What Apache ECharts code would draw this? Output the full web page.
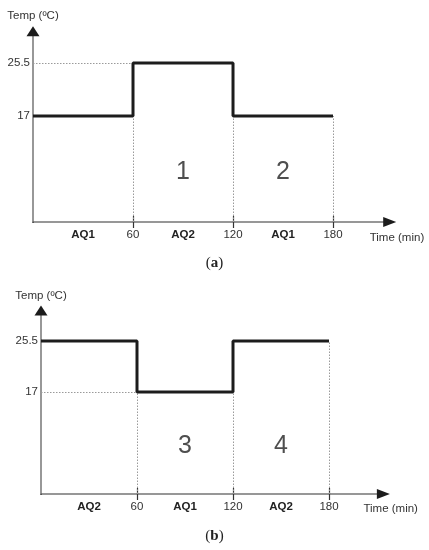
<!DOCTYPE html>
<html><head><meta charset="utf-8">
<script src="https://cdn.jsdelivr.net/npm/echarts@6/dist/echarts.min.js"></script>
<style>html,body{margin:0;padding:0;background:#fff}#c{width:429px;height:550px}</style>
</head><body><div id="c"></div>
<script>
// ---- data ----
const times = [0, 60, 120, 180];            // step change times (min)
const tempA = [17, 25.5, 17, 17];           // panel (a) temperature at each step start
const tempB = [25.5, 17, 25.5, 25.5];       // panel (b)
const phasesA = ['AQ1', 'AQ2', 'AQ1'];
const phasesB = ['AQ2', 'AQ1', 'AQ2'];
const phaseMid = [30, 90, 150];
const tickVals = [60, 120, 180];
const yTickVals = [17, 25.5];
const regionsA = ['1', '2'];
const regionsB = ['3', '4'];
const regionX = [90, 150];
const regionY = 8;
const xMax = 214, yMax = 30.6;

const FONT = 'Liberation Sans, Arial, sans-serif';
const AXIS = '#767676';
const INK = '#1c1c1c';
const HIDDEN = { color: INK, width: 1, type: [0, 100000] };

function stepData(t) { return times.map((x, i) => [x, t[i]]); }
function dotted(t) {
  const lines = [];
  for (let i = 1; i < times.length; i++) {
    const lo = i < times.length - 1 ? Math.min(t[i - 1], t[i]) : t[i - 1];
    lines.push([{ coord: [times[i], 0] }, { coord: [times[i], lo] }]);
  }
  lines.push([{ coord: [0, t[1]] }, { coord: [times[1], t[1]] }]);
  return lines;
}
function labelMap(phases) {
  const m = {};
  phaseMid.forEach((v, i) => m[v] = '{b|' + phases[i] + '}');
  tickVals.forEach(v => m[v] = '{n|' + v + '}');
  return m;
}
function mainX(grid, phases, gap, pad) {
  const m = labelMap(phases);
  return {
    type: 'value', gridIndex: grid, min: 0, max: xMax, position: 'bottom',
    splitLine: { show: false },
    axisLine: { show: true, lineStyle: { color: AXIS, width: 1.5 } },
    axisTick: { show: true, customValues: tickVals, length: 6, lineStyle: { color: '#333', width: 1.2 } },
    axisLabel: {
      show: true, customValues: phaseMid.concat(tickVals), margin: 7,
      formatter: v => m[v] || '',
      rich: {
        b: { fontFamily: FONT, fontSize: 11.5, fontWeight: 'bold', color: '#222' },
        n: { fontFamily: FONT, fontSize: 11.5, color: '#333' }
      }
    },
    name: 'Time (min)', nameLocation: 'end', nameGap: gap,
    nameTextStyle: { fontFamily: FONT, fontSize: 11.5, color: '#333', align: 'left', verticalAlign: 'top', padding: [pad, 0, 0, 0] }
  };
}
function innerX(grid) {
  return {
    type: 'value', gridIndex: grid, min: 0, max: xMax, position: 'bottom',
    splitLine: { show: false }, axisLabel: { show: false },
    axisLine: { show: true, symbol: ['none', 'triangle'], symbolSize: [10, 13], lineStyle: HIDDEN },
    axisTick: { show: true, inside: true, customValues: tickVals, length: 6, lineStyle: { color: '#333', width: 1.2 } }
  };
}
function yAx(grid) {
  return {
    type: 'value', gridIndex: grid, min: 0, max: yMax, position: 'left',
    splitLine: { show: false },
    axisLine: { show: true, lineStyle: { color: AXIS, width: 1.5 } },
    axisTick: { show: false },
    axisLabel: { show: true, customValues: yTickVals, margin: 3, fontFamily: FONT, fontSize: 11.5, color: '#333' },
    name: 'Temp (ºC)', nameLocation: 'end', nameGap: 9,
    nameTextStyle: { fontFamily: FONT, fontSize: 11.5, color: '#333', align: 'center' }
  };
}
function yArrow(grid) {
  return {
    type: 'value', gridIndex: grid, min: 0, max: yMax, position: 'left', offset: 0,
    splitLine: { show: false }, axisTick: { show: false }, axisLabel: { show: false },
    axisLine: { show: true, symbol: ['none', 'triangle'], symbolSize: [13, 10], lineStyle: HIDDEN }
  };
}
function stepSeries(xi, yi, t) {
  return {
    type: 'line', xAxisIndex: xi, yAxisIndex: yi, step: 'end', data: stepData(t),
    symbol: 'none', lineStyle: { color: INK, width: 3 }, z: 5,
    markLine: {
      silent: true, symbol: 'none', label: { show: false },
      lineStyle: { type: [1.5, 1.5], color: '#9a9a9a', width: 1 },
      data: dotted(t)
    }
  };
}
function regionSeries(xi, yi, labels) {
  return {
    type: 'scatter', xAxisIndex: xi, yAxisIndex: yi, symbolSize: 1,
    itemStyle: { color: 'transparent' },
    data: regionX.map((x, i) => [x, regionY, labels[i]]),
    label: { show: true, position: 'inside', formatter: p => p.value[2], fontFamily: FONT, fontSize: 25, color: '#222' }
  };
}

const chart = echarts.init(document.getElementById('c'), null, { renderer: 'canvas' });
chart.setOption({
  animation: false,
  grid: [
    { left: 33, top: 31.2, width: 356.7, height: 190.8 },
    { left: 41, top: 310.4, width: 342.4, height: 183.6 }
  ],
  xAxis: [mainX(0, phasesA, -20, 10), innerX(0), mainX(1, phasesB, -20, 9), innerX(1)],
  yAxis: [yAx(0), yArrow(0), yAx(1), yArrow(1)],
  series: [
    stepSeries(0, 0, tempA), regionSeries(0, 0, regionsA),
    stepSeries(2, 2, tempB), regionSeries(2, 2, regionsB)
  ],
  graphic: [
    { type: 'text', left: 'center', top: 256, style: { text: '({b|a})', font: '15px "Liberation Serif", serif', fill: '#222', rich: { b: { fontWeight: 'bold', fontFamily: 'Liberation Serif', fontSize: 15 } } } },
    { type: 'text', left: 'center', top: 529, style: { text: '({b|b})', font: '15px "Liberation Serif", serif', fill: '#222', rich: { b: { fontWeight: 'bold', fontFamily: 'Liberation Serif', fontSize: 15 } } } }
  ]
});
</script></body></html>
